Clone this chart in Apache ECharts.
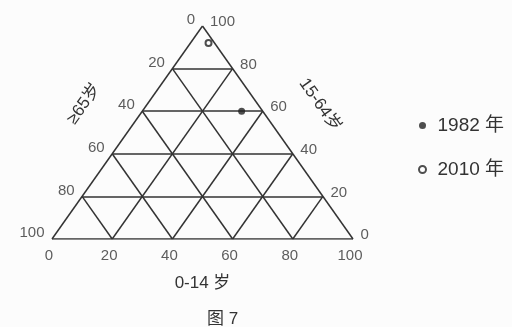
<!DOCTYPE html>
<html style="height: 100%" lang="zh">
<head>
    <meta charset="UTF-8">
    <title>图 7</title>
</head>
<body style="height: 100%; margin: 0; background: #fcfcfc">
<div id="main" style="width: 512px; height: 327px"></div>

<script src="https://cdn.jsdelivr.net/npm/echarts@6/dist/echarts.min.js"></script>
<script type="text/javascript">

    // 刻度
    var ticks = [0, 20, 40, 60, 80, 100];
    // 年份和三个年龄组的比重(%)
    var years = ['1982 年', '2010 年'];
    var kids = [33, 6];      // 0-14 岁
    var adults = [60, 92];   // 15-64 岁
    var elders = [7, 2];     // ≥65 岁

    var font = 'Liberation Sans, Noto Sans CJK SC, sans-serif';
    var ink = '#333';

    // 三角坐标 -> 直角坐标 (x 0..100, y 0..100)
    function toXY(a, b) {
        return [a + b / 2, b];
    }

    // 三角形边框和网格线
    var gridLines = [];
    ticks.slice(0, 5).forEach(function (t) {
        gridLines.push({coords: [toXY(0, t), toXY(100 - t, t)]});       // 15-64 岁 等值线
        gridLines.push({coords: [toXY(t, 0), toXY(t, 100 - t)]});       // 0-14 岁 等值线
        gridLines.push({coords: [toXY(100 - t, 0), toXY(0, 100 - t)]}); // ≥65 岁 等值线
    });

    var bottomTicks = ticks.map(function (t) { return {value: toXY(t, 0), name: String(t)}; });
    var leftTicks = ticks.map(function (t) { return {value: toXY(0, 100 - t), name: String(t)}; });
    var rightTicks = ticks.map(function (t) { return {value: toXY(100 - t, t), name: String(t)}; });

    function tickSeries(data, label) {
        label.show = true;
        label.formatter = '{b}';
        label.color = ink;
        label.fontSize = 15;
        label.fontFamily = font;
        return {
            type: 'scatter',
            data: data,
            symbolSize: 1,
            itemStyle: {color: 'transparent'},
            label: label,
            silent: true,
            clip: false,
            legendHoverLink: false
        };
    }

    var myChart = echarts.init(document.getElementById('main'));
    var option = {
        animation: false,
        title: {
            text: '图 7',
            left: 202,
            top: 306,
            textStyle: {fontSize: 17, fontWeight: 'normal', color: ink, fontFamily: font}
        },
        legend: {
            orient: 'vertical',
            left: 413,
            top: 111,
            itemWidth: 20,
            itemHeight: 7,
            itemGap: 25,
            data: [{name: years[0], icon: 'circle'}, {name: years[1], icon: 'emptyCircle'}],
            textStyle: {fontSize: 19, color: ink, fontFamily: font}
        },
        grid: {left: 52, top: 26, width: 301, height: 213},
        xAxis: {
            type: 'value', min: 0, max: 100,
            name: '0-14 岁', nameLocation: 'middle', nameGap: 36,
            nameTextStyle: {fontSize: 17, color: ink, fontFamily: font},
            axisLine: {show: false}, axisTick: {show: false},
            axisLabel: {show: false}, splitLine: {show: false}
        },
        yAxis: {
            type: 'value', min: 0, max: 100, show: false
        },
        graphic: [
            {
                type: 'text', x: 84, y: 104, rotation: 54.7 * Math.PI / 180,
                style: {text: '≥65岁', align: 'center', verticalAlign: 'middle',
                    fontSize: 17, fill: ink, fontFamily: font}
            },
            {
                type: 'text', x: 320, y: 105, rotation: -54.7 * Math.PI / 180,
                style: {text: '15-64岁', align: 'center', verticalAlign: 'middle',
                    fontSize: 17, fill: ink, fontFamily: font}
            }
        ],
        series: [
            {
                type: 'lines',
                coordinateSystem: 'cartesian2d',
                data: gridLines,
                silent: true,
                lineStyle: {color: ink, width: 1.5, opacity: 1}
            },
            tickSeries(bottomTicks, {position: 'bottom', distance: 9, offset: [-3, 0]}),
            tickSeries(leftTicks, {position: 'left', distance: 7, offset: [0, -6]}),
            tickSeries(rightTicks, {position: 'right', distance: 6, offset: [1, -4]}),
            {
                name: years[0],
                type: 'scatter',
                symbol: 'circle',
                symbolSize: 7,
                itemStyle: {color: '#222'},
                data: [toXY(kids[0], adults[0]).concat([elders[0]])]
            },
            {
                name: years[1],
                type: 'scatter',
                symbol: 'emptyCircle',
                symbolSize: 6,
                itemStyle: {color: '#222', borderColor: '#222', borderWidth: 1.2},
                data: [toXY(kids[1], adults[1]).concat([elders[1]])]
            }
        ]
    };
    myChart.setOption(option);

</script>
</body>
</html>
